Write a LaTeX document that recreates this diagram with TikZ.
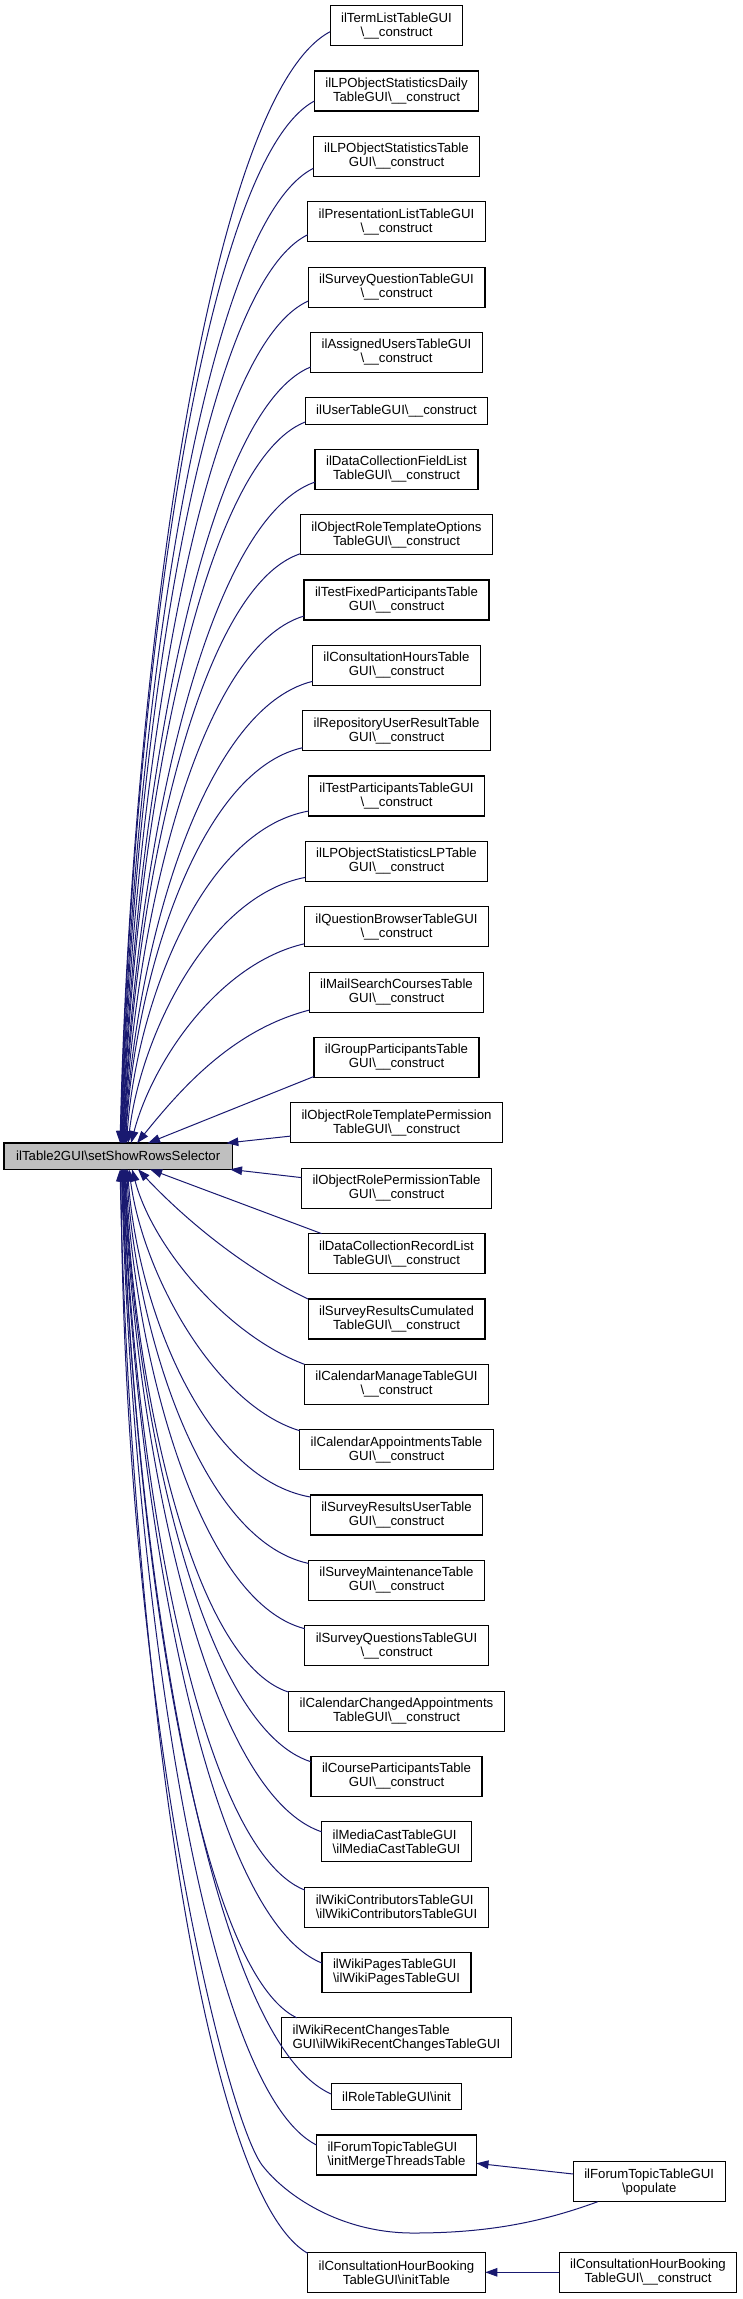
\documentclass[tikz,border=0pt]{standalone}
\usepackage{fontspec}
\setmainfont{Liberation Sans}
\usetikzlibrary{arrows.meta,calc}
\definecolor{edgeblue}{HTML}{191970}
\definecolor{rootgray}{HTML}{BFBFBF}
\newcommand{\bs}{\textbackslash}
\newcommand{\cons}{\textbackslash\_\_construct}
\begin{document}
\begin{tikzpicture}[x=1pt,y=1pt,
  box/.style={draw=black, line width=1.2pt, fill=white, inner xsep=11pt, inner ysep=2pt,
    minimum height=40pt, align=center, outer sep=0pt,
    font=\fontsize{13.2}{14}\selectfont},
  boxone/.style={box, minimum height=26.3pt},
  boxleft/.style={box, align=left},
  rootbox/.style={box, fill=rootgray, minimum height=26.3pt, minimum width=228.3pt, inner xsep=2pt},
  edge/.style={draw=edgeblue, line width=1pt, -{Triangle[length=12pt,width=8.5pt]}}]
\useasboundingbox (0,0) rectangle (743,-2299);

\node[rootbox] (root) at (118.2,-1156.2) {ilTable2GUI\bs setShowRowsSelector};

\node[box] (n1) at (396.5,-25.7) {ilTermListTableGUI\\\cons};
\node[box] (n2) at (396.5,-91.05) {ilLPObjectStatisticsDaily\\TableGUI\cons};
\node[box] (n3) at (396.5,-156.4) {ilLPObjectStatisticsTable\\GUI\cons};
\node[box] (n4) at (396.5,-221.75) {ilPresentationListTableGUI\\\cons};
\node[box] (n5) at (396.5,-287.1) {ilSurveyQuestionTableGUI\\\cons};
\node[box] (n6) at (396.5,-352.45) {ilAssignedUsersTableGUI\\\cons};
\node[boxone] (n7) at (396.5,-411) {ilUserTableGUI\cons};
\node[box] (n8) at (396.5,-469.3) {ilDataCollectionFieldList\\TableGUI\cons};
\node[box] (n9) at (396.5,-534.65) {ilObjectRoleTemplateOptions\\TableGUI\cons};
\node[box] (n10) at (396.5,-600) {ilTestFixedParticipantsTable\\GUI\cons};
\node[box] (n11) at (396.5,-665.35) {ilConsultationHoursTable\\GUI\cons};
\node[box] (n12) at (396.5,-730.7) {ilRepositoryUserResultTable\\GUI\cons};
\node[box] (n13) at (396.5,-796.05) {ilTestParticipantsTableGUI\\\cons};
\node[box] (n14) at (396.5,-861.4) {ilLPObjectStatisticsLPTable\\GUI\cons};
\node[box] (n15) at (396.5,-926.75) {ilQuestionBrowserTableGUI\\\cons};
\node[box] (n16) at (396.5,-992.1) {ilMailSearchCoursesTable\\GUI\cons};
\node[box] (n17) at (396.5,-1057.45) {ilGroupParticipantsTable\\GUI\cons};
\node[box] (n18) at (396.5,-1122.8) {ilObjectRoleTemplatePermission\\TableGUI\cons};
\node[box] (n19) at (396.5,-1188.2) {ilObjectRolePermissionTable\\GUI\cons};
\node[box] (n20) at (396.5,-1253.6) {ilDataCollectionRecordList\\TableGUI\cons};
\node[box] (n21) at (396.5,-1319) {ilSurveyResultsCumulated\\TableGUI\cons};
\node[box] (n22) at (396.5,-1384.3) {ilCalendarManageTableGUI\\\cons};
\node[box] (n23) at (396.5,-1449.7) {ilCalendarAppointmentsTable\\GUI\cons};
\node[box] (n24) at (396.5,-1515) {ilSurveyResultsUserTable\\GUI\cons};
\node[box] (n25) at (396.5,-1580.4) {ilSurveyMaintenanceTable\\GUI\cons};
\node[box] (n26) at (396.5,-1645.7) {ilSurveyQuestionsTableGUI\\\cons};
\node[box] (n27) at (396.5,-1711.1) {ilCalendarChangedAppointments\\TableGUI\cons};
\node[box] (n28) at (396.5,-1776.4) {ilCourseParticipantsTable\\GUI\cons};
\node[boxleft] (n29) at (396.5,-1841.8) {ilMediaCastTableGUI\\\bs ilMediaCastTableGUI};
\node[boxleft] (n30) at (396.5,-1907.1) {ilWikiContributorsTableGUI\\\bs ilWikiContributorsTableGUI};
\node[boxleft] (n31) at (396.5,-1972.5) {ilWikiPagesTableGUI\\\bs ilWikiPagesTableGUI};
\node[boxleft] (n32) at (396.5,-2037.8) {ilWikiRecentChangesTable\\GUI\bs ilWikiRecentChangesTableGUI};
\node[boxone] (n33) at (396.5,-2096.5) {ilRoleTableGUI\bs init};
\node[boxleft] (n34) at (396.5,-2155) {ilForumTopicTableGUI\\\bs initMergeThreadsTable};
\node[box] (n35) at (396.5,-2272.3) {ilConsultationHourBooking\\TableGUI\bs initTable};
\node[box] (pop) at (649.2,-2181.7) {ilForumTopicTableGUI\\\bs populate};
\node[box] (cons) at (648,-2272.3) {ilConsultationHourBooking\\TableGUI\cons};

% edges from nodes above the root
\foreach \i/\ey/\rx/\pa/\pb/\pc/\pd in {
1/-6/116/.6/.06/.05/.4,
2/-10/116.5/.6/.06/.05/.4,
3/-12/117/.6/.06/.05/.4,
4/-13/117.5/.6/.06/.05/.4,
5/-14/118/.6/.06/.05/.4,
6/-14.5/118.5/.6/.06/.05/.4,
7/-11/119/.6/.06/.05/.4,
8/-12.7/119.5/.6/.06/.05/.4,
9/-19/120/.6/.06/.05/.4,
10/-16/120.5/.6/.06/.05/.4,
11/-16/121/.6/.06/.05/.4,
12/-17/121.5/.6/.06/.05/.4,
13/-15/122.5/.6/.06/.05/.4,
14/-16/124/.55/.07/.07/.4,
15/-17/127/.5/.1/.12/.4,
16/-18/133/.45/.15/.25/.4}
{\draw[edge] let \p1=([yshift=\ey]n\i.west), \p2=([xshift=\rx]root.north west),
   \n1={\x1-\x2}, \n2={\y1-\y2} in
   (\p1) .. controls +(-\pa*\n1,-\pb*\n2) and +(\pc*\n1,\pd*\n2) .. (\p2);}

\draw[edge] ([yshift=-19]n17.west) -- ([xshift=144]root.north west);
\draw[edge] ([yshift=-13.3]n18.west) -- ([xshift=-6]root.north east);
\draw[edge] ([yshift=10.6]n19.west) -- ([xshift=-2.3]root.south east);
\draw[edge] ([xshift=13.5]n20.north west) -- ([xshift=146]root.south west);

% edges from nodes below the root
\foreach \i/\ey/\rx/\pa/\pb/\pc/\pd in {
21/20/134/.4/.25/.25/.35,
22/20/128/.45/.15/.12/.4,
23/19/125/.5/.1/.08/.4,
24/18/123.5/.6/.06/.05/.4,
25/17/122.5/.6/.06/.05/.4,
26/17/121.5/.6/.06/.05/.4,
27/19/121/.6/.06/.05/.4,
28/14.6/120.5/.6/.06/.05/.4,
29/10/120/.6/.06/.05/.4,
30/17/119.5/.6/.06/.05/.4,
31/9.4/119/.6/.06/.05/.4,
33/2.5/118/.6/.06/.05/.4,
34/10/117.5/.6/.06/.05/.4,
35/19/116/.6/.06/.05/.4}
{\draw[edge] let \p1=([yshift=\ey]n\i.west), \p2=([xshift=\rx]root.south west),
   \n1={\x1-\x2}, \n2={\y1-\y2} in
   (\p1) .. controls +(-\pa*\n1,-\pb*\n2) and +(\pc*\n1,\pd*\n2) .. (\p2);}

\draw[edge] let \p1=([xshift=15]n32.north west), \p2=([xshift=118.5]root.south west),
   \n1={\x1-\x2}, \n2={\y1-\y2} in
   (\p1) .. controls +(-.6*\n1,-.06*\n2) and +(.05*\n1,.4*\n2) .. (\p2);

% populate
\coordinate (popdip) at (413,-2233);
\coordinate (popbend) at (262,-2165);
\draw[edge] ([xshift=24.4]pop.south west) .. controls +(-60,-22) and +(70,0) .. (popdip)
  .. controls +(-73,0) and +(23,-30) .. (popbend)
  .. controls +(-37,50) and +(2,-531) .. ([xshift=117]root.south west);
\draw[edge] ([yshift=7.7]pop.west) -- ([yshift=-8.3]n34.east);
\draw[edge] (cons.west) -- (n35.east);
\end{tikzpicture}
\end{document}
